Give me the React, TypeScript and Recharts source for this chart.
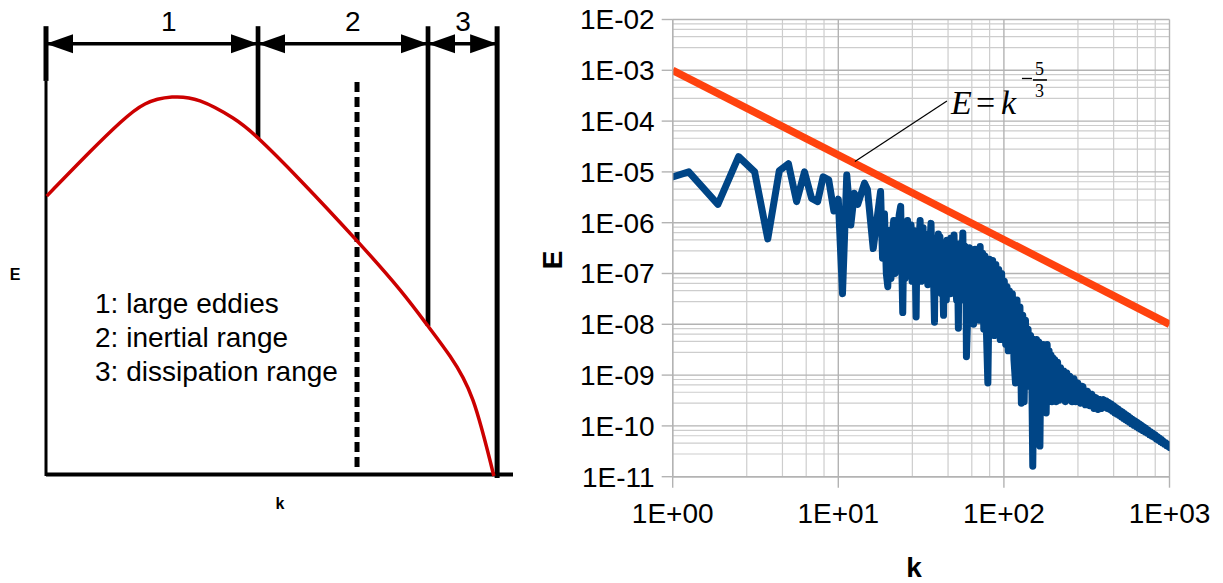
import React from 'react';
import {
  ComposedChart,
  Line,
  Scatter,
  XAxis,
  YAxis,
  ReferenceLine,
  ReferenceDot,
  CartesianGrid,
  Label,
} from 'recharts';

const SANS = '"Liberation Sans", Arial, sans-serif';
const SERIF = '"Liberation Serif", "Times New Roman", serif';

// ---------------- Left panel: schematic energy spectrum ----------------
// u: 0..100 along k (left axis .. end of plot), v: 0..100 along E
const curveU = [0.15, 9.42, 15.85, 21.2, 26.98, 32.98, 40.04, 45.4, 54.39, 66.6, 75.8, 81.8, 86.5, 91.4, 95.9];
const curveV = [58.8, 68.1, 74.2, 78.15, 79.6, 78.8, 75.2, 71.0, 62.2, 49.4, 39.1, 31.5, 25.2, 16.0, 0.0];

const rangeBounds = [0, 45.4, 81.8, 96.6]; // k positions of the range boundaries
const boundBottoms = [83.0, 71.0, 31.5, -0.4]; // where each boundary line ends
const boundWidths = [5, 4.7, 4.7, 5];
const boundTop = 94.5;
const arrowLevel = 90.8;
const dashedK = 66.6;
const dashedFrom = 1.9;
const dashedTo = 83.2;

const rangeNames = ['1', '2', '3'];
const rangeNameU = [26.3, 65.7, 89.3];
const rangeNameV = 93.4;

const legendLines = ['1: large eddies', '2: inertial range', '3: dissipation range'];
const legendU = 10.5;
const legendV = [34.2, 27.1, 20.0];

const curveData = curveU.map((u, i) => ({ u, v: curveV[i] }));
const arrowData = [
  { u: rangeBounds[0], v: arrowLevel, dir: 'left' },
  { u: rangeBounds[1], v: arrowLevel, dir: 'right' },
  { u: rangeBounds[1], v: arrowLevel, dir: 'left' },
  { u: rangeBounds[2], v: arrowLevel, dir: 'right' },
  { u: rangeBounds[2], v: arrowLevel, dir: 'left' },
  { u: rangeBounds[3], v: arrowLevel, dir: 'right' },
];
const textData = [
  ...rangeNames.map((t, i) => ({ u: rangeNameU[i], v: rangeNameV, text: t, anchor: 'middle' })),
  ...legendLines.map((t, i) => ({ u: legendU, v: legendV[i], text: t, anchor: 'start' })),
];

// ---------------- Right panel: measured spectrum ----------------
const xMajor = [1, 10, 100, 1000];
const yMajor = [1e-11, 1e-10, 1e-9, 1e-8, 1e-7, 1e-6, 1e-5, 1e-4, 1e-3, 1e-2];
const minorSteps = [2.8, 4.6, 6.4, 8.2];
const xMinor = xMajor.slice(0, -1).flatMap((d) => minorSteps.map((m) => d * m));
const yMinor = yMajor.slice(0, -1).flatMap((d) => minorSteps.map((m) => d * m));

const powerLaw: [number, number][] = [
  [1, 1e-3],
  [1000, 1e-8],
];

const spectrum: [number, number][] = [
  [1, 8.0e-6], [1.25, 1.0e-5], [1.875, 2.3e-6], [2.5, 2.0e-5], [3.125, 1.0e-5], [3.75, 4.8e-7],
  [4.4, 1.05e-5], [5.0, 1.45e-5], [5.6, 2.6e-6], [6.25, 1.0e-5], [6.9, 3.0e-6], [7.5, 2.6e-6],
  [8.1, 8.0e-6], [8.75, 7.0e-6], [9.4, 1.7e-6], [10.0, 2.9e-6], [10.6, 4.0e-8], [11.25, 8.7e-6],
  [11.9, 9.0e-7], [12.5, 3.8e-6], [13.1, 2.3e-6], [14.4, 6.0e-6], [15.0, 4.5e-6], [16.25, 3.1e-7],
  [18.0, 4.1e-6], [18.5, 2e-7], [19.0, 1.5e-6], [19.5, 1e-7], [19.9, 5.5e-8], [20.3, 7e-7],
  [20.8, 8e-8], [21.2, 6e-7], [21.6, 1.1e-6], [22.0, 1e-7], [22.5, 9e-7], [22.9, 1.5e-7],
  [23.3, 1.4e-6], [23.8, 2.1e-6], [24.2, 1.2e-7], [24.5, 1.7e-8], [24.9, 8e-7], [25.3, 8e-8],
  [25.8, 7e-7], [26.2, 1.1e-6], [26.6, 9e-8], [27.1, 6e-7], [27.5, 9e-7], [27.9, 7e-8],
  [28.4, 6e-7], [28.8, 7e-7], [29.2, 1e-7], [29.5, 1.4e-8], [29.9, 6e-7], [30.4, 8e-8],
  [30.8, 5e-7], [31.2, 1.1e-6], [31.7, 7e-8], [32.1, 6e-7], [32.5, 8e-7], [33.0, 1e-7],
  [33.4, 6e-7], [33.8, 9e-8], [34.3, 5e-7], [34.7, 6e-8], [35.1, 5e-7], [35.6, 8e-8],
  [36.0, 6e-7], [36.3, 9.7e-7], [36.8, 1e-7], [37.2, 5e-7], [37.6, 8e-8], [38.1, 1.1e-8],
  [38.5, 4e-7], [38.9, 7e-8], [39.4, 5e-7], [39.8, 6e-8], [40.2, 6e-7], [40.6, 7e-8],
  [41.1, 5.3e-7], [41.5, 9e-8], [41.9, 4e-8], [42.4, 4e-7], [42.8, 6e-8], [43.2, 1.5e-8],
  [43.6, 4e-7], [44.0, 7e-8], [44.5, 4e-7], [44.9, 3e-8], [45.3, 4.5e-7], [45.7, 6e-8],
  [46.2, 4e-7], [46.6, 5e-8], [47.0, 4e-7], [47.5, 4e-8], [47.9, 5e-7], [48.3, 7e-8],
  [48.8, 4e-7], [49.2, 6e-8], [49.6, 4e-7], [50.0, 5.7e-7], [50.5, 4e-8], [50.9, 4e-7],
  [51.3, 6e-8], [51.8, 3e-8], [52.2, 3.5e-7], [52.7, 5e-8], [53.1, 8.4e-9], [53.5, 3.5e-7],
  [54.0, 4e-8], [54.4, 3e-7], [54.8, 6e-8], [55.2, 4e-7], [55.7, 5e-8], [56.1, 3e-7],
  [56.5, 6.3e-7], [57.0, 5e-8], [57.4, 3e-8], [57.8, 3.5e-7], [58.3, 4e-8], [58.7, 3e-7],
  [59.1, 3e-8], [59.4, 2.3e-9],
  [60.6, 2e-8], [61.9, 3.2e-7], [63.1, 3e-8], [64.4, 2.5e-7], [65.6, 1e-8], [66.9, 3e-7],
  [68.1, 2e-8], [69.4, 2.2e-7], [70.6, 1.2e-8], [71.9, 3.4e-7], [73.1, 1.5e-8], [74.4, 2.5e-7],
  [75.6, 8e-9], [76.9, 2.2e-7], [78.1, 1.2e-8], [80.0, 7e-10], [81.9, 1.9e-7], [83.8, 1e-8],
  [85.6, 1.8e-7], [87.5, 6e-9], [89.4, 1.5e-7], [91.2, 8e-9], [93.1, 1.2e-7], [95.0, 5e-9],
  [96.9, 1e-7], [98.8, 6e-9], [100.6, 7e-8], [102.5, 4e-9], [104.4, 5.5e-8], [106.2, 3e-9],
  [108.1, 4.5e-8], [110.0, 5e-9], [112.5, 4e-8], [115.0, 2e-9], [117.5, 7e-10], [120.0, 3e-8],
  [122.5, 1.5e-9], [125.0, 2.2e-8], [127.5, 2.8e-10], [130.0, 1.5e-8], [132.5, 3e-10], [135.0, 1.2e-8],
  [137.5, 8e-10], [140.0, 8e-9], [142.5, 6e-10], [145.0, 6e-9], [147.5, 7e-10], [149.4, 1.6e-11],
  [152.5, 5e-9], [155.0, 5e-10], [157.5, 5e-9], [160.0, 6e-10], [162.5, 4.5e-9], [165.0, 4e-11],
  [167.5, 4e-9], [170.0, 4e-10], [172.5, 4e-9], [175.0, 3.5e-10], [177.5, 3.5e-9], [180.0, 1.8e-10],
  [182.5, 4e-9], [185.0, 3e-10], [187.5, 3e-9], [190.0, 3.5e-10], [192.5, 2.5e-9], [195.0, 3e-10],
  [197.5, 2.2e-9], [200.0, 3.5e-10],
  [203, 2.0e-9], [207, 3e-10], [211, 1.8e-9], [215, 3.2e-10], [220, 1.4e-9], [225, 4e-10],
  [230, 1.2e-9], [235, 3e-10], [240, 1.1e-9], [245, 3.5e-10], [250, 9.5e-10], [258, 3e-10],
  [265, 8.5e-10], [272, 3e-10], [280, 7e-10], [290, 2.8e-10], [300, 6e-10], [310, 2.6e-10],
  [320, 4.8e-10], [330, 2.5e-10], [340, 4.2e-10], [350, 2.2e-10], [360, 3.6e-10], [370, 2.1e-10],
  [380, 3.3e-10], [390, 2.2e-10],
  [400, 3.3e-10], [407, 2.5e-10], [415, 3.1e-10], [422, 2.2e-10], [430, 2.9e-10], [437, 2.1e-10],
  [445, 2.7e-10], [452, 1.95e-10], [460, 2.5e-10], [467, 1.8e-10], [475, 2.3e-10], [482, 1.7e-10],
  [490, 2.15e-10], [497, 1.6e-10], [505, 2.0e-10], [512, 1.5e-10], [520, 1.88e-10], [527, 1.4e-10],
  [535, 1.76e-10], [542, 1.32e-10], [550, 1.65e-10], [557, 1.25e-10], [565, 1.55e-10], [572, 1.18e-10],
  [580, 1.46e-10], [590, 1.1e-10], [600, 1.35e-10], [610, 1.03e-10], [620, 1.25e-10], [630, 9.7e-11],
  [640, 1.17e-10], [650, 9.1e-11], [660, 1.09e-10], [670, 8.6e-11], [680, 1.02e-10], [690, 8.1e-11],
  [700, 9.6e-11], [710, 7.7e-11], [720, 9.0e-11], [732, 7.2e-11], [745, 8.3e-11], [757, 6.7e-11],
  [770, 7.7e-11], [782, 6.3e-11], [795, 7.2e-11], [807, 5.9e-11], [820, 6.7e-11], [832, 5.5e-11],
  [845, 6.2e-11], [857, 5.2e-11], [870, 5.8e-11], [882, 4.9e-11], [895, 5.4e-11], [907, 4.6e-11],
  [920, 5.0e-11], [932, 4.35e-11], [945, 4.7e-11], [957, 4.1e-11], [970, 4.4e-11], [985, 3.9e-11],
  [1000, 3.75e-11],
];

const leaderFrom = { k: 12.6, E: 1.6e-5 };
const leaderTo = { k: 45.3, E: 2.49e-4 };

const spectrumData = spectrum.map(([k, E]) => ({ k, E }));
const powerLawData = powerLaw.map(([k, E]) => ({ k, E }));

const sciTick = (v: number) => {
  const e = Math.round(Math.log10(v));
  return '1E' + (e < 0 ? '-' : '+') + String(Math.abs(e)).padStart(2, '0');
};

function Arrowhead(props: any) {
  const { cx, cy, payload } = props;
  const L = 27;
  const H = 9.5;
  const s = payload.dir === 'left' ? 1 : -1;
  return (
    <polygon
      points={`${cx},${cy} ${cx + s * L},${cy - H} ${cx + s * L},${cy + H}`}
      fill="#000"
    />
  );
}

function TextMark(props: any) {
  const { cx, cy, payload } = props;
  return (
    <text x={cx} y={cy} textAnchor={payload.anchor} fontSize={28} fontFamily={SANS} fill="#000">
      {payload.text}
    </text>
  );
}

function PowerLawLabel(props: any) {
  const { cx, cy } = props;
  return (
    <g fill="#000">
      <text x={cx + 4} y={cy + 13} fontFamily={SERIF} fontSize={34} fontStyle="italic">E</text>
      <text x={cx + 29} y={cy + 13} fontFamily={SERIF} fontSize={34}>=</text>
      <text x={cx + 54} y={cy + 13} fontFamily={SERIF} fontSize={34} fontStyle="italic">k</text>
      <line x1={cx + 75} x2={cx + 85} y1={cy - 22.5} y2={cy - 22.5} stroke="#000" strokeWidth={1.3} />
      <text x={cx + 92.5} y={cy - 26} fontFamily={SERIF} fontSize={18} textAnchor="middle">5</text>
      <line x1={cx + 86} x2={cx + 100} y1={cy - 21} y2={cy - 21} stroke="#000" strokeWidth={1.6} />
      <text x={cx + 92.5} y={cy - 3.5} fontFamily={SERIF} fontSize={18} textAnchor="middle">3</text>
    </g>
  );
}

const GRID_MAJOR = '#b3b3b3';
const GRID_MINOR = '#cdcdcd';

export default function App() {
  return (
    <div
      style={{
        position: 'absolute',
        left: 0,
        top: 0,
        width: 1223,
        height: 583,
        background: '#fff',
        fontFamily: SANS,
        overflow: 'hidden',
      }}
    >
      {/* Left schematic */}
      <div style={{ position: 'absolute', left: 0, top: 0 }}>
        <ComposedChart width={540} height={583} margin={{ top: 0, right: 27, bottom: 0, left: 0 }}>
          <XAxis
            type="number"
            dataKey="u"
            domain={[0, 100]}
            height={107}
            axisLine={false}
            tickLine={false}
            tick={false}
          >
            <Label
              content={({ viewBox }: any) => (
                <text
                  x={viewBox.x + 234}
                  y={viewBox.y + 33}
                  textAnchor="middle"
                  fontSize={16}
                  fontWeight="bold"
                  fontFamily={SANS}
                  fill="#000"
                >
                  k
                </text>
              )}
            />
          </XAxis>
          <YAxis
            type="number"
            dataKey="v"
            domain={[0, 100]}
            width={46}
            axisLine={false}
            tickLine={false}
            tick={false}
          >
            <Label
              content={({ viewBox }: any) => (
                <text
                  x={viewBox.x + 15}
                  y={viewBox.y + 280}
                  textAnchor="middle"
                  fontSize={16}
                  fontWeight="bold"
                  fontFamily={SANS}
                  fill="#000"
                >
                  E
                </text>
              )}
            />
          </YAxis>

          {/* axes of the schematic */}
          <ReferenceLine
            segment={[{ x: 0, y: 0.3 }, { x: 100, y: 0.3 }]}
            stroke="#000"
            strokeWidth={4}
            ifOverflow="visible"
          />
          <ReferenceLine
            segment={[{ x: 0, y: 0 }, { x: 0, y: boundBottoms[0] }]}
            stroke="#000"
            strokeWidth={3}
            ifOverflow="visible"
          />
          {rangeBounds.map((u, i) => (
            <ReferenceLine
              key={`b${i}`}
              segment={[{ x: u, y: boundBottoms[i] }, { x: u, y: boundTop }]}
              stroke="#000"
              strokeWidth={boundWidths[i]}
              ifOverflow="visible"
            />
          ))}
          <ReferenceLine
            segment={[{ x: dashedK, y: dashedFrom }, { x: dashedK, y: dashedTo }]}
            stroke="#000"
            strokeWidth={5}
            strokeDasharray="10 5"
            ifOverflow="visible"
          />
          {rangeBounds.slice(0, -1).map((u, i) => (
            <ReferenceLine
              key={`s${i}`}
              segment={[{ x: u, y: arrowLevel }, { x: rangeBounds[i + 1], y: arrowLevel }]}
              stroke="#000"
              strokeWidth={3.5}
              ifOverflow="visible"
            />
          ))}

          <Line
            data={curveData}
            dataKey="v"
            type="natural"
            stroke="#cc0000"
            strokeWidth={3.5}
            dot={false}
            activeDot={false}
            isAnimationActive={false}
          />
          <Scatter data={arrowData} dataKey="v" shape={<Arrowhead />} isAnimationActive={false} />
          <Scatter data={textData} dataKey="v" shape={<TextMark />} isAnimationActive={false} />
        </ComposedChart>
      </div>

      {/* Right measured spectrum */}
      <div style={{ position: 'absolute', left: 540, top: 0 }}>
        <ComposedChart width={683} height={583} margin={{ top: 19.5, right: 53.5, bottom: 0, left: 0 }}>
          <CartesianGrid
            horizontalValues={yMinor}
            verticalValues={xMinor}
            stroke={GRID_MINOR}
            strokeWidth={1.2}
            syncWithTicks={false}
          />
          <CartesianGrid
            horizontalValues={yMajor}
            verticalValues={xMajor}
            stroke={GRID_MAJOR}
            strokeWidth={1.4}
            syncWithTicks={false}
          />
          <XAxis
            type="number"
            dataKey="k"
            scale="log"
            domain={[1, 1000]}
            ticks={xMajor}
            tickFormatter={sciTick}
            height={106.3}
            axisLine={{ stroke: GRID_MAJOR, strokeWidth: 1.4 }}
            tickLine={{ stroke: GRID_MAJOR, strokeWidth: 1.4 }}
            tickSize={11}
            tickMargin={15}
            tick={{ fill: '#000', fontSize: 28, fontFamily: SANS }}
            interval={0}
            allowDataOverflow
          >
            <Label
              content={({ viewBox }: any) => (
                <text
                  x={viewBox.x + 241.3}
                  y={viewBox.y + 100.3}
                  textAnchor="middle"
                  fontSize={28}
                  fontWeight="bold"
                  fontFamily={SANS}
                  fill="#000"
                >
                  k
                </text>
              )}
            />
          </XAxis>
          <YAxis
            type="number"
            dataKey="E"
            scale="log"
            domain={[1e-11, 1e-2]}
            ticks={yMajor}
            tickFormatter={sciTick}
            width={132.7}
            axisLine={{ stroke: GRID_MAJOR, strokeWidth: 1.4 }}
            tickLine={{ stroke: GRID_MAJOR, strokeWidth: 1.4 }}
            tickSize={11}
            tickMargin={7}
            tick={{ fill: '#000', fontSize: 28, fontFamily: SANS }}
            interval={0}
            allowDataOverflow
          >
            <Label
              content={({ viewBox }: any) => {
                const cx = viewBox.x + 12;
                const cy = viewBox.y + 240.5;
                return (
                  <text
                    x={cx}
                    y={cy}
                    transform={`rotate(-90 ${cx} ${cy})`}
                    textAnchor="middle"
                    dominantBaseline="central"
                    fontSize={28}
                    fontWeight="bold"
                    fontFamily={SANS}
                    fill="#000"
                  >
                    E
                  </text>
                );
              }}
            />
          </YAxis>

          <Line
            data={spectrumData}
            dataKey="E"
            type="linear"
            stroke="#004586"
            strokeWidth={7}
            strokeLinejoin="round"
            strokeLinecap="round"
            dot={false}
            activeDot={false}
            isAnimationActive={false}
          />
          <Line
            data={powerLawData}
            dataKey="E"
            type="linear"
            stroke="#ff420e"
            strokeWidth={7.5}
            dot={false}
            activeDot={false}
            isAnimationActive={false}
          />
          <ReferenceLine
            segment={[
              { x: leaderFrom.k, y: leaderFrom.E },
              { x: leaderTo.k, y: leaderTo.E },
            ]}
            stroke="#000"
            strokeWidth={1.2}
            ifOverflow="visible"
          />
          <ReferenceDot
            x={leaderTo.k}
            y={leaderTo.E}
            r={0}
            shape={<PowerLawLabel />}
            ifOverflow="visible"
          />
        </ComposedChart>
      </div>
    </div>
  );
}
